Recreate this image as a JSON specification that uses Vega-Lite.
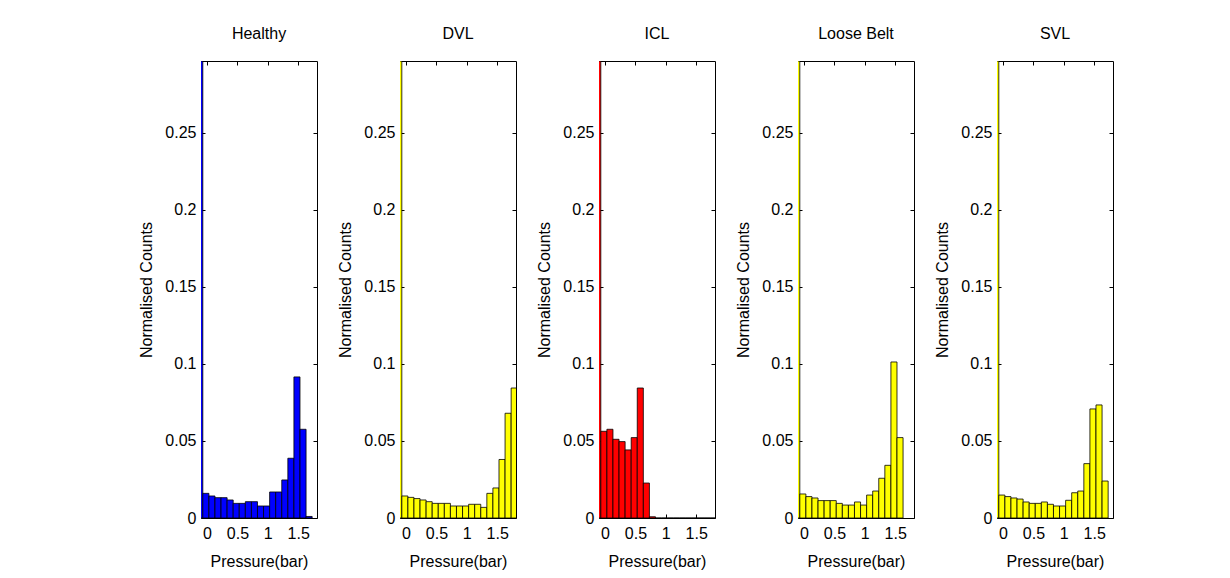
{
  "$schema": "https://vega.github.io/schema/vega-lite/v6.json",
  "autosize": {"type": "pad"},
  "padding": {"left": 138, "top": 26, "right": 0, "bottom": 0},
  "background": "white",
  "data": {"values": [
    {"panel": "Healthy", "lo": -0.17, "hi": -0.07, "v": 0.2967},
    {"panel": "Healthy", "lo": -0.07, "hi": 0.03, "v": 0.016},
    {"panel": "Healthy", "lo": 0.03, "hi": 0.13, "v": 0.0143},
    {"panel": "Healthy", "lo": 0.13, "hi": 0.23, "v": 0.0132},
    {"panel": "Healthy", "lo": 0.23, "hi": 0.33, "v": 0.0132},
    {"panel": "Healthy", "lo": 0.33, "hi": 0.43, "v": 0.0117},
    {"panel": "Healthy", "lo": 0.43, "hi": 0.53, "v": 0.0095},
    {"panel": "Healthy", "lo": 0.53, "hi": 0.63, "v": 0.0095},
    {"panel": "Healthy", "lo": 0.63, "hi": 0.73, "v": 0.0106},
    {"panel": "Healthy", "lo": 0.73, "hi": 0.83, "v": 0.0106},
    {"panel": "Healthy", "lo": 0.83, "hi": 0.93, "v": 0.0078},
    {"panel": "Healthy", "lo": 0.93, "hi": 1.03, "v": 0.0078},
    {"panel": "Healthy", "lo": 1.03, "hi": 1.13, "v": 0.0169},
    {"panel": "Healthy", "lo": 1.13, "hi": 1.23, "v": 0.0169},
    {"panel": "Healthy", "lo": 1.23, "hi": 1.33, "v": 0.0247},
    {"panel": "Healthy", "lo": 1.33, "hi": 1.43, "v": 0.0388},
    {"panel": "Healthy", "lo": 1.43, "hi": 1.53, "v": 0.0916},
    {"panel": "Healthy", "lo": 1.53, "hi": 1.63, "v": 0.0576},
    {"panel": "Healthy", "lo": 1.63, "hi": 1.73, "v": 0.001},
    {"panel": "DVL", "lo": -0.17, "hi": -0.07, "v": 0.2967},
    {"panel": "DVL", "lo": -0.07, "hi": 0.03, "v": 0.0143},
    {"panel": "DVL", "lo": 0.03, "hi": 0.13, "v": 0.0134},
    {"panel": "DVL", "lo": 0.13, "hi": 0.23, "v": 0.0126},
    {"panel": "DVL", "lo": 0.23, "hi": 0.33, "v": 0.0117},
    {"panel": "DVL", "lo": 0.33, "hi": 0.43, "v": 0.0106},
    {"panel": "DVL", "lo": 0.43, "hi": 0.53, "v": 0.0095},
    {"panel": "DVL", "lo": 0.53, "hi": 0.63, "v": 0.0095},
    {"panel": "DVL", "lo": 0.63, "hi": 0.73, "v": 0.0095},
    {"panel": "DVL", "lo": 0.73, "hi": 0.83, "v": 0.0078},
    {"panel": "DVL", "lo": 0.83, "hi": 0.93, "v": 0.0078},
    {"panel": "DVL", "lo": 0.93, "hi": 1.03, "v": 0.0078},
    {"panel": "DVL", "lo": 1.03, "hi": 1.13, "v": 0.0089},
    {"panel": "DVL", "lo": 1.13, "hi": 1.23, "v": 0.0089},
    {"panel": "DVL", "lo": 1.23, "hi": 1.33, "v": 0.0069},
    {"panel": "DVL", "lo": 1.33, "hi": 1.43, "v": 0.016},
    {"panel": "DVL", "lo": 1.43, "hi": 1.53, "v": 0.0195},
    {"panel": "DVL", "lo": 1.53, "hi": 1.63, "v": 0.038},
    {"panel": "DVL", "lo": 1.63, "hi": 1.73, "v": 0.068},
    {"panel": "DVL", "lo": 1.73, "hi": 1.83, "v": 0.0844},
    {"panel": "ICL", "lo": -0.17, "hi": -0.07, "v": 0.2967},
    {"panel": "ICL", "lo": -0.07, "hi": 0.03, "v": 0.0563},
    {"panel": "ICL", "lo": 0.03, "hi": 0.13, "v": 0.0576},
    {"panel": "ICL", "lo": 0.13, "hi": 0.23, "v": 0.0511},
    {"panel": "ICL", "lo": 0.23, "hi": 0.33, "v": 0.0496},
    {"panel": "ICL", "lo": 0.33, "hi": 0.43, "v": 0.0442},
    {"panel": "ICL", "lo": 0.43, "hi": 0.53, "v": 0.0522},
    {"panel": "ICL", "lo": 0.53, "hi": 0.63, "v": 0.0844},
    {"panel": "ICL", "lo": 0.63, "hi": 0.73, "v": 0.0227},
    {"panel": "ICL", "lo": 0.73, "hi": 0.83, "v": 0.0008},
    {"panel": "ICL", "lo": 0.83, "hi": 0.93, "v": 0},
    {"panel": "ICL", "lo": 0.93, "hi": 1.03, "v": 0},
    {"panel": "ICL", "lo": 1.03, "hi": 1.13, "v": 0},
    {"panel": "ICL", "lo": 1.13, "hi": 1.23, "v": 0},
    {"panel": "ICL", "lo": 1.23, "hi": 1.33, "v": 0},
    {"panel": "ICL", "lo": 1.33, "hi": 1.43, "v": 0},
    {"panel": "ICL", "lo": 1.43, "hi": 1.53, "v": 0},
    {"panel": "ICL", "lo": 1.53, "hi": 1.63, "v": 0},
    {"panel": "ICL", "lo": 1.63, "hi": 1.73, "v": 0},
    {"panel": "ICL", "lo": 1.73, "hi": 1.83, "v": 0},
    {"panel": "Loose Belt", "lo": -0.17, "hi": -0.07, "v": 0.2967},
    {"panel": "Loose Belt", "lo": -0.07, "hi": 0.03, "v": 0.0156},
    {"panel": "Loose Belt", "lo": 0.03, "hi": 0.13, "v": 0.0139},
    {"panel": "Loose Belt", "lo": 0.13, "hi": 0.23, "v": 0.013},
    {"panel": "Loose Belt", "lo": 0.23, "hi": 0.33, "v": 0.0113},
    {"panel": "Loose Belt", "lo": 0.33, "hi": 0.43, "v": 0.0113},
    {"panel": "Loose Belt", "lo": 0.43, "hi": 0.53, "v": 0.0113},
    {"panel": "Loose Belt", "lo": 0.53, "hi": 0.63, "v": 0.0095},
    {"panel": "Loose Belt", "lo": 0.63, "hi": 0.73, "v": 0.0084},
    {"panel": "Loose Belt", "lo": 0.73, "hi": 0.83, "v": 0.0084},
    {"panel": "Loose Belt", "lo": 0.83, "hi": 0.93, "v": 0.0104},
    {"panel": "Loose Belt", "lo": 0.93, "hi": 1.03, "v": 0.0084},
    {"panel": "Loose Belt", "lo": 1.03, "hi": 1.13, "v": 0.0149},
    {"panel": "Loose Belt", "lo": 1.13, "hi": 1.23, "v": 0.0175},
    {"panel": "Loose Belt", "lo": 1.23, "hi": 1.33, "v": 0.0258},
    {"panel": "Loose Belt", "lo": 1.33, "hi": 1.43, "v": 0.0342},
    {"panel": "Loose Belt", "lo": 1.43, "hi": 1.53, "v": 0.1013},
    {"panel": "Loose Belt", "lo": 1.53, "hi": 1.63, "v": 0.0522},
    {"panel": "SVL", "lo": -0.17, "hi": -0.07, "v": 0.2967},
    {"panel": "SVL", "lo": -0.07, "hi": 0.03, "v": 0.0149},
    {"panel": "SVL", "lo": 0.03, "hi": 0.13, "v": 0.0139},
    {"panel": "SVL", "lo": 0.13, "hi": 0.23, "v": 0.013},
    {"panel": "SVL", "lo": 0.23, "hi": 0.33, "v": 0.0123},
    {"panel": "SVL", "lo": 0.33, "hi": 0.43, "v": 0.0104},
    {"panel": "SVL", "lo": 0.43, "hi": 0.53, "v": 0.0095},
    {"panel": "SVL", "lo": 0.53, "hi": 0.63, "v": 0.0095},
    {"panel": "SVL", "lo": 0.63, "hi": 0.73, "v": 0.0104},
    {"panel": "SVL", "lo": 0.73, "hi": 0.83, "v": 0.0089},
    {"panel": "SVL", "lo": 0.83, "hi": 0.93, "v": 0.0078},
    {"panel": "SVL", "lo": 0.93, "hi": 1.03, "v": 0.0078},
    {"panel": "SVL", "lo": 1.03, "hi": 1.13, "v": 0.0115},
    {"panel": "SVL", "lo": 1.13, "hi": 1.23, "v": 0.0164},
    {"panel": "SVL", "lo": 1.23, "hi": 1.33, "v": 0.0175},
    {"panel": "SVL", "lo": 1.33, "hi": 1.43, "v": 0.0353},
    {"panel": "SVL", "lo": 1.43, "hi": 1.53, "v": 0.0708},
    {"panel": "SVL", "lo": 1.53, "hi": 1.63, "v": 0.0734},
    {"panel": "SVL", "lo": 1.63, "hi": 1.73, "v": 0.024}
  ]},
  "facet": {
    "column": {
      "field": "panel",
      "type": "nominal",
      "sort": ["Healthy", "DVL", "ICL", "Loose Belt", "SVL"],
      "header": {"title": null, "labelFontSize": 16, "labelFont": "Liberation Sans", "labelColor": "black", "labelPadding": 19}
    }
  },
  "spacing": 83,
  "bounds": "flush",
  "resolve": {"axis": {"x": "independent", "y": "independent"}},
  "spec": {
    "width": 116,
    "height": 457,
    "layer": [
      {
        "mark": {"type": "bar", "stroke": "black", "strokeWidth": 0.8, "clip": true},
        "encoding": {
          "x": {"field": "lo", "type": "quantitative",
                "scale": {"domain": [-0.1, 1.81], "nice": false, "zero": false},
                "axis": {"orient": "bottom", "values": [0, 0.5, 1, 1.5], "format": "~g", "title": "Pressure(bar)", "tickSize": -4, "labelPadding": 11, "titlePadding": 12, "grid": false, "domain": false}},
          "x2": {"field": "hi"},
          "y": {"field": "v", "type": "quantitative",
                "scale": {"domain": [0, 0.2967], "nice": false},
                "axis": {"orient": "left", "values": [0, 0.05, 0.1, 0.15, 0.2, 0.25], "format": "~g", "title": "Normalised Counts", "tickSize": -4, "labelPadding": 9, "titlePadding": 10, "grid": false, "domain": false}},
          "y2": {"datum": 0},
          "color": {"field": "panel", "type": "nominal",
                    "scale": {"domain": ["Healthy", "DVL", "ICL", "Loose Belt", "SVL"], "range": ["#0000ff", "#ffff00", "#ff0000", "#ffff00", "#ffff00"]},
                    "legend": null}
        }
      },
      {
        "mark": {"type": "bar", "opacity": 0, "strokeOpacity": 0, "clip": true},
        "encoding": {
          "x": {"field": "lo", "type": "quantitative",
                "axis": {"orient": "top", "values": [0, 0.5, 1, 1.5], "labels": false, "title": null, "tickSize": -4, "grid": false, "domain": false}},
          "x2": {"field": "hi"},
          "y": {"field": "v", "type": "quantitative",
                "axis": {"orient": "right", "values": [0, 0.05, 0.1, 0.15, 0.2, 0.25], "labels": false, "title": null, "tickSize": -4, "grid": false, "domain": false}},
          "y2": {"datum": 0}
        }
      }
    ]
  },
  "config": {
    "font": "Liberation Sans",
    "view": {"stroke": "black", "strokeWidth": 1},
    "axis": {"labelFontSize": 16, "titleFontSize": 16, "labelColor": "black", "titleColor": "black", "titleFontWeight": "normal", "tickColor": "black", "tickWidth": 1, "labelFont": "Liberation Sans", "titleFont": "Liberation Sans"}
  }
}
